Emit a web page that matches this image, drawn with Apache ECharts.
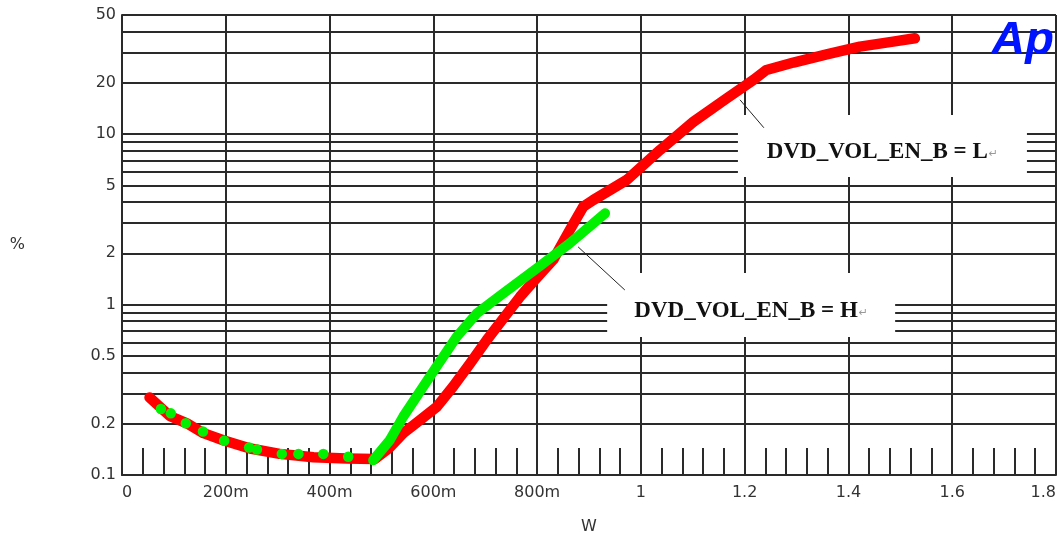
<!DOCTYPE html>
<html>
<head>
<meta charset="utf-8">
<script src="https://cdn.jsdelivr.net/npm/echarts@6/dist/echarts.min.js"></script>
<style>
  html, body { margin: 0; padding: 0; background: #fff; }
  #chart { width: 1060px; height: 540px; }
</style>
</head>
<body>
<div id="chart"></div>
<script>
// ---- data ----
const redX = [0.053, 0.092, 0.125, 0.157, 0.195, 0.247, 0.304, 0.369, 0.433, 0.487, 0.516, 0.542, 0.570, 0.606, 0.638, 0.671, 0.703, 0.735, 0.767, 0.799, 0.831, 0.863, 0.889, 0.908, 0.973, 1.037, 1.101, 1.165, 1.217, 1.242, 1.294, 1.358, 1.422, 1.486, 1.528];
const redY = [0.285, 0.222, 0.201, 0.176, 0.160, 0.143, 0.133, 0.127, 0.125, 0.124, 0.145, 0.176, 0.205, 0.250, 0.330, 0.452, 0.620, 0.830, 1.11, 1.43, 1.83, 2.74, 3.75, 4.1, 5.39, 8.08, 11.8, 16.2, 20.8, 23.8, 26.3, 29.4, 32.6, 34.9, 36.5];

const greenDotX = [0.075, 0.094, 0.123, 0.156, 0.197, 0.245, 0.260, 0.308, 0.340, 0.388, 0.436];
const greenDotY = [0.244, 0.230, 0.201, 0.180, 0.159, 0.145, 0.141, 0.133, 0.133, 0.133, 0.128];

const greenLineX = [0.484, 0.516, 0.542, 0.606, 0.645, 0.684, 0.735, 0.799, 0.863, 0.931];
const greenLineY = [0.122, 0.160, 0.220, 0.432, 0.648, 0.889, 1.165, 1.63, 2.29, 3.43];

const yLabelValues = [0.1, 0.2, 0.5, 1, 2, 5, 10, 20, 50];
const yGridValues = [0.1, 0.2, 0.3, 0.4, 0.5, 0.6, 0.7, 0.8, 0.9, 1, 2, 3, 4, 5, 6, 7, 8, 9, 10, 20, 30, 40, 50];

const labelL = 'DVD_VOL_EN_B = L';
const labelH = 'DVD_VOL_EN_B = H';
const boxL = [[1.187, 12.97], [1.744, 5.61]];
const pointerL = [[1.191, 15.9], [1.237, 10.9]];
const boxH = [[0.935, 1.532], [1.490, 0.646]];
const pointerH = [[0.879, 2.18], [0.969, 1.218]];

const zip = (xs, ys) => xs.map((x, i) => [x, ys[i]]);

const GRID = '#2a2a2a';
const TXT = '#333';
const AXFONT = 'DejaVu Sans';

function boxLabel(text) {
  return {
    show: true,
    position: 'inside',
    offset: [0, 6],
    formatter: '{t|' + text + '}{r|\u21b5}',
    rich: {
      t: { fontFamily: 'Liberation Serif', fontWeight: 'bold', fontSize: 23, color: '#111' },
      r: { fontFamily: 'DejaVu Sans', fontSize: 11, color: '#999', padding: [4, 0, 0, 1] }
    }
  };
}

const chart = echarts.init(document.getElementById('chart'), null, { renderer: 'canvas' });
chart.setOption({
  animation: false,
  backgroundColor: '#fff',
  grid: { left: 122, right: 4, top: 15, bottom: 65, containLabel: false },
  xAxis: {
    type: 'value',
    min: 0, max: 1.8, interval: 0.2,
    name: 'W', nameLocation: 'middle', nameGap: 44,
    nameTextStyle: { fontFamily: AXFONT, fontSize: 16, color: TXT },
    axisLine: { show: true, lineStyle: { color: GRID, width: 2 } },
    axisTick: { show: true, inside: true, length: 27, lineStyle: { color: GRID, width: 2 } },
    minorTick: { show: true, splitNumber: 5, length: 27, lineStyle: { color: GRID, width: 2 } },
    splitLine: { show: true, lineStyle: { color: GRID, width: 2 } },
    axisLabel: {
      fontFamily: AXFONT, fontSize: 16, color: TXT, margin: 10,
      alignMinLabel: 'left', alignMaxLabel: 'right',
      formatter: v => {
        const r = Math.round(v * 1000) / 1000;
        if (r === 0) return '0';
        if (r < 1) return Math.round(r * 1000) + 'm';
        return String(parseFloat(r.toFixed(1)));
      }
    }
  },
  yAxis: {
    type: 'log', logBase: 10,
    min: 0.1, max: 50,
    name: '%', nameLocation: 'middle', nameGap: 97, nameRotate: 0,
    nameTextStyle: { fontFamily: AXFONT, fontSize: 16, color: TXT },
    axisLine: { show: true, lineStyle: { color: GRID, width: 2 } },
    axisTick: { show: false, customValues: yGridValues },
    splitLine: { show: true, lineStyle: { color: GRID, width: 2 } },
    axisLabel: {
      customValues: yLabelValues,
      fontFamily: AXFONT, fontSize: 16, color: TXT, margin: 6,
      formatter: v => String(parseFloat(Number(v).toPrecision(3)))
    }
  },
  graphic: [{
    type: 'text', right: 6, top: 18, z: 100,
    style: { text: 'Ap', fill: '#0014ff', font: 'italic bold 47px "Liberation Sans"' }
  }],
  series: [
    {
      name: 'L', type: 'line', z: 2,
      data: zip(redX, redY),
      showSymbol: false, symbol: 'none',
      lineStyle: { color: '#ff0000', width: 10.5, cap: 'round', join: 'round' },
      markArea: {
        silent: true,
        itemStyle: { color: '#ffffff', opacity: 1, borderWidth: 0 },
        data: [
          [{ coord: boxL[0], label: boxLabel(labelL) }, { coord: boxL[1] }],
          [{ coord: boxH[0], label: boxLabel(labelH) }, { coord: boxH[1] }]
        ]
      },
      markLine: {
        silent: true, symbol: ['none', 'none'],
        label: { show: false },
        lineStyle: { color: '#222', width: 1, type: 'solid' },
        data: [
          [{ coord: pointerL[0] }, { coord: pointerL[1] }],
          [{ coord: pointerH[0] }, { coord: pointerH[1] }]
        ]
      }
    },
    {
      name: 'H', type: 'line', z: 3,
      data: zip(greenLineX, greenLineY),
      showSymbol: false, symbol: 'none',
      lineStyle: { color: '#00f000', width: 10, cap: 'round', join: 'round' }
    },
    {
      name: 'H dots', type: 'scatter', z: 4,
      data: zip(greenDotX, greenDotY),
      symbol: 'circle', symbolSize: 10.5,
      itemStyle: { color: '#00f000', opacity: 1 }
    }
  ]
});
</script>
</body>
</html>
